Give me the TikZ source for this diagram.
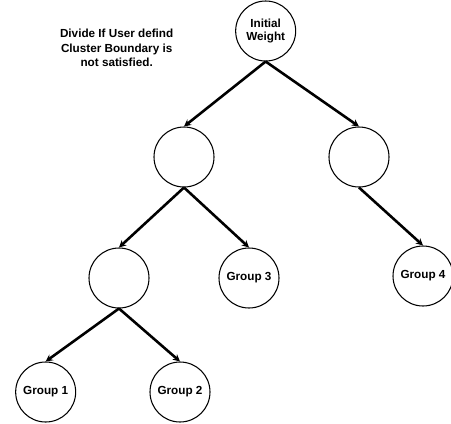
\documentclass[tikz,border=0pt]{standalone}
\usepackage{fontspec}
\setmainfont{Liberation Sans}
\usetikzlibrary{arrows.meta, positioning}

\begin{document}
\begin{tikzpicture}[
    splitnode/.style={draw=black, circle, line width=0.9pt, minimum size=1.8cm,
                 inner sep=0pt, align=center, font=\bfseries\fontsize{10}{11}\selectfont},
    arr/.style={-{Stealth[length=6pt, width=6pt]}, line width=2.2pt, black},
]
    \useasboundingbox (0, 0) rectangle (13.53, -12.69);

    \node[splitnode] (root) at (7.97, -0.93) {Initial\\Weight};
    \node[splitnode] (l) at (5.52, -4.71) {};
    \node[splitnode] (r) at (10.77, -4.71) {};
    \node[splitnode] (ll) at (3.57, -8.34) {};
    \node[splitnode] (g3) at (7.47, -8.34) {Group 3};
    \node[splitnode] (g4) at (12.69, -8.28) {Group 4};
    \node[splitnode] (g1) at (1.37, -11.76) {Group 1};
    \node[splitnode] (g2) at (5.40, -11.76) {Group 2};

    \draw[arr] (root.south) -- (l.north);
    \draw[arr] (root.south) -- (r.north);
    \draw[arr] (l.south) -- (ll.north);
    \draw[arr] (l.south) -- (g3.north);
    \draw[arr] (r.south) -- (g4.north);
    \draw[arr] (ll.south) -- (g1.north);
    \draw[arr] (ll.south) -- (g2.north);

    % Annotation
    \node[font=\bfseries\fontsize{10}{12.4}\selectfont, align=center] (note) at (3.5, -1.44)
        {Divide If User defind\\Cluster Boundary is\\not satisfied.};
\end{tikzpicture}
\end{document}
